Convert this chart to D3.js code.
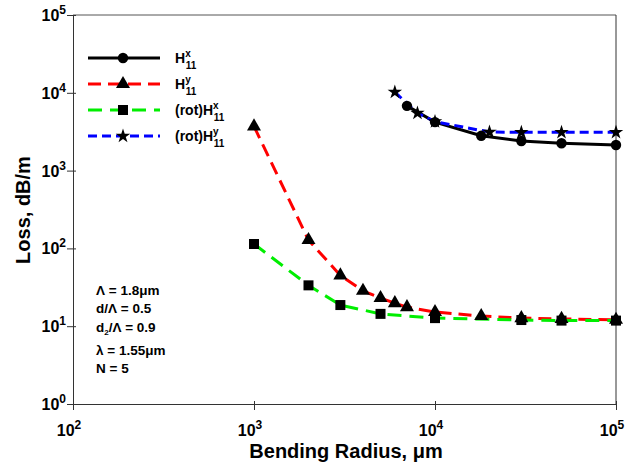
<!DOCTYPE html>
<html><head><meta charset="utf-8">
<script src="https://cdn.jsdelivr.net/npm/d3@7"></script>
<style>
body{margin:0;background:#fff;}
text{font-family:"Liberation Sans",Arial,Helvetica,sans-serif;font-weight:bold;fill:#000;}
</style></head>
<body><svg id="c" width="639" height="464"></svg>
<script>
// Data
const hx11X = [7000, 10000, 18000, 30000, 50000, 100000];
const hx11Y = [6800, 4200, 2800, 2400, 2250, 2130];
const hy11X = [1000, 2000, 3000, 4000, 5000, 6000, 7000, 10000, 18000, 30000, 50000, 100000];
const hy11Y = [3700, 128, 45, 28.5, 23, 19.8, 17.6, 15.2, 13.5, 12.7, 12.4, 12.1];
const rotHx11X = [1000, 2000, 3000, 5000, 10000, 30000, 50000, 100000];
const rotHx11Y = [114, 33.5, 18.7, 14.4, 12.7, 12.0, 11.8, 11.8];
const rotHy11X = [6000, 8000, 10000, 20000, 30000, 50000, 100000];
const rotHy11Y = [10200, 5500, 4250, 3130, 3100, 3100, 3100];
const xTickExps = [2, 3, 4, 5];
const yTickExps = [0, 1, 2, 3, 4, 5];
const seriesNames = ["H|x|11", "H|y|11", "(rot)H|x|11", "(rot)H|y|11"];
const annotations = ["Λ = 1.8μm", "d/Λ = 0.5", "d|2|/Λ = 0.9", "λ = 1.55μm", "N = 5"];

const svg = d3.select("#c");
const L = 73, R = 616, T = 15, B = 404;
const x = d3.scaleLog().domain([1e2, 1e5]).range([L, R]);
const y = d3.scaleLog().domain([1, 1e5]).range([B, T]);

const series = [
  {xs: hx11X, ys: hx11Y, color: "#000", dash: null, sym: d3.symbolCircle, size: 85},
  {xs: hy11X, ys: hy11Y, color: "#ff0000", dash: "13,7", sym: d3.symbolTriangle, size: 85},
  {xs: rotHx11X, ys: rotHx11Y, color: "#00ee00", dash: "14,8", sym: d3.symbolSquare, size: 100},
  {xs: rotHy11X, ys: rotHy11Y, color: "#0000ff", dash: "9,5", sym: d3.symbolStar, size: 65}
];

// frame lines top/right
svg.append("line").attr("x1", L).attr("x2", R).attr("y1", T).attr("y2", T).attr("stroke", "#555").attr("stroke-width", 1);
svg.append("line").attr("x1", R).attr("x2", R).attr("y1", T).attr("y2", B).attr("stroke", "#333").attr("stroke-width", 1);

// axes
const xAxis = d3.axisBottom(x).tickValues(xTickExps.map(e => Math.pow(10, e))).tickFormat("").tickSizeOuter(0).tickSizeInner(6);
const yAxis = d3.axisLeft(y).tickValues(yTickExps.map(e => Math.pow(10, e))).tickFormat("").tickSizeOuter(0).tickSizeInner(6);
const gx = svg.append("g").attr("transform", `translate(0,${B})`).call(xAxis);
const gy = svg.append("g").attr("transform", `translate(${L},0)`).call(yAxis);
[gx, gy].forEach(g => { g.selectAll("path,line").attr("stroke", "#333").attr("stroke-width", 1); });
gx.selectAll(".tick line").attr("y1", -3);
gy.selectAll(".tick line").attr("x1", 3);

xTickExps.forEach(e => {
  const t = svg.append("text").attr("x", x(Math.pow(10, e)) - 4).attr("y", 436).attr("text-anchor", "middle").style("font-size", "16px");
  t.append("tspan").text("10");
  t.append("tspan").attr("dy", -7).style("font-size", "12px").text(e);
});
yTickExps.forEach(e => {
  const t = svg.append("text").attr("x", 66).attr("y", y(Math.pow(10, e)) + 6).attr("text-anchor", "end").style("font-size", "16px");
  t.append("tspan").text("10");
  t.append("tspan").attr("dy", -7).style("font-size", "12px").text(e);
});

svg.append("text").attr("x", 346).attr("y", 458).attr("text-anchor", "middle").style("font-size", "20px").text("Bending Radius, μm");
svg.append("text").attr("transform", "translate(30,210) rotate(-90)").attr("text-anchor", "middle").style("font-size", "20px").text("Loss, dB/m");

// lines
const line = d3.line().x(d => x(d[0])).y(d => y(d[1]));
series.forEach(s => {
  const pts = s.xs.map((v, i) => [v, s.ys[i]]);
  svg.append("path").datum(pts).attr("d", line).attr("fill", "none").attr("stroke", s.color)
    .attr("stroke-width", 3).attr("stroke-dasharray", s.dash);
});
series.forEach(s => {
  const pts = s.xs.map((v, i) => [v, s.ys[i]]);
  svg.selectAll(null).data(pts).enter().append("path")
    .attr("d", d3.symbol().type(s.sym).size(s.size))
    .attr("transform", d => `translate(${x(d[0])},${y(d[1])})`)
    .attr("fill", "#000");
});

// legend
const legY = [58, 84, 110, 136];
series.forEach((s, i) => {
  svg.append("line").attr("x1", 88).attr("x2", 160).attr("y1", legY[i]).attr("y2", legY[i])
    .attr("stroke", s.color).attr("stroke-width", 3).attr("stroke-dasharray", s.dash);
  svg.append("path").attr("d", d3.symbol().type(s.sym).size(s.size)).attr("transform", `translate(123,${legY[i]})`).attr("fill", "#000");
  const parts = seriesNames[i].split("|");
  const t = svg.append("text").attr("x", 175).attr("y", legY[i] + 5).style("font-size", "14px");
  t.append("tspan").text(parts[0]);
  t.append("tspan").attr("dy", -6).style("font-size", "10px").text(parts[1]);
  t.append("tspan").attr("dx", -5).attr("dy", 12).style("font-size", "10px").text(parts[2]);
});

// annotations
const annY = [295, 313, 332, 355, 373];
annotations.forEach((a, i) => {
  const parts = a.split("|");
  const t = svg.append("text").attr("x", 96).attr("y", annY[i]).style("font-size", "13.5px");
  t.append("tspan").text(parts[0]);
  if (parts.length > 1) {
    t.append("tspan").attr("dy", 3).style("font-size", "8px").text(parts[1]);
    t.append("tspan").attr("dy", -3).text(parts[2]);
  }
});
</script></body></html>
